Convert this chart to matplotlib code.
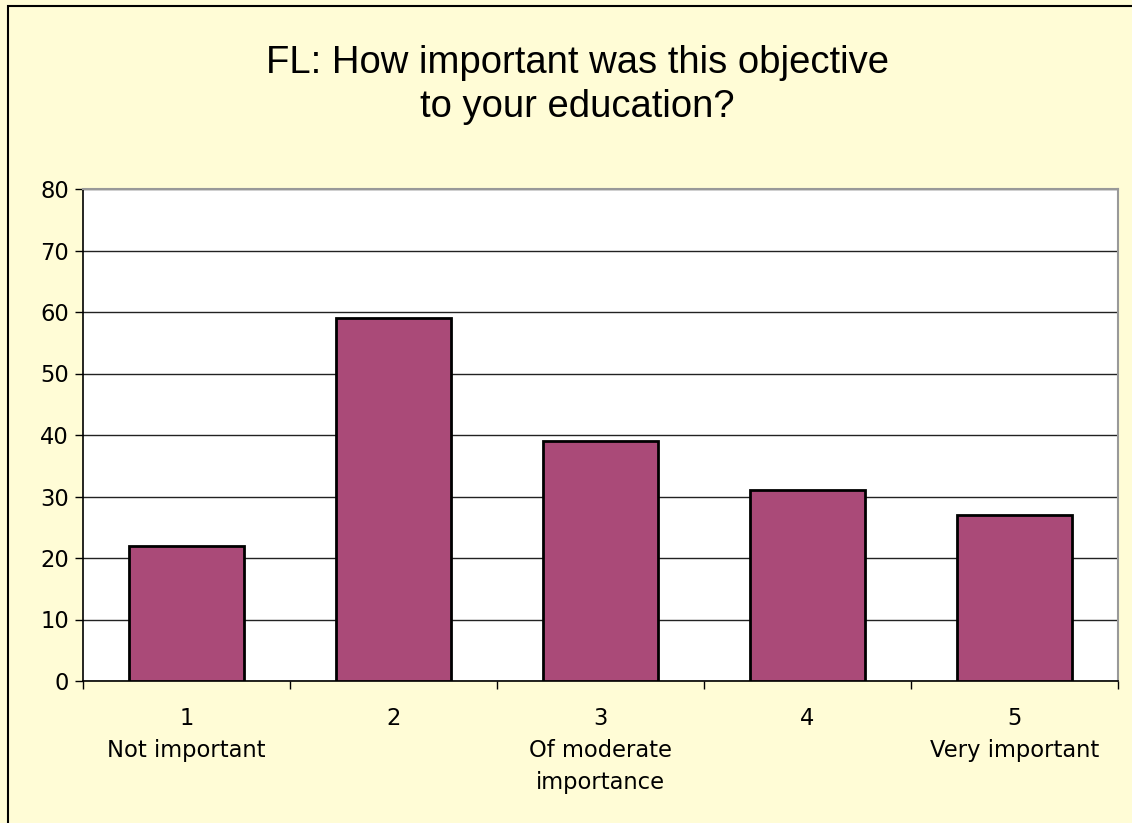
import matplotlib.pyplot as plt
from matplotlib.patches import Rectangle

# data
categories = ['1\nNot important', '2', '3\nOf moderate\nimportance', '4', '5\nVery important']
counts = [22, 59, 39, 31, 27]
title = 'FL: How important was this objective\nto your education?'

fig = plt.figure(figsize=(11.32, 8.23), dpi=100)
fig.patch.set_facecolor('#FFFCD6')
# black frame at top/left like the original (cropped on the other sides)
fig.patches.append(Rectangle((8 / 1132, -0.1), 1.2, 1 - 6 / 823 + 0.1, transform=fig.transFigure,
                             fill=False, edgecolor='black', linewidth=1.5))

ax = fig.add_axes([83 / 1132, 1 - 681 / 823, (1118 - 83) / 1132, (681 - 189) / 823])
ax.set_facecolor('white')

x = range(len(counts))
ax.bar(x, counts, width=0.56, color='#AA4A78', edgecolor='black', linewidth=2, zorder=3)

ax.set_ylim(0, 80)
ax.set_xlim(-0.5, len(counts) - 0.5)
ax.set_yticks(range(0, 81, 10))
ax.yaxis.grid(True, color='#222222', linewidth=1, zorder=0)

ax.set_xticks(list(x))
ax.set_xticklabels(categories, linespacing=1.48, va='top')
ax.set_xticks([i + 0.5 for i in range(-1, len(counts))], minor=True)
ax.tick_params(axis='x', which='major', length=0, pad=19)
ax.tick_params(axis='x', which='minor', length=6, width=1, direction='out')
ax.tick_params(axis='y', length=6, width=1, pad=4)
for lab in ax.get_xticklabels() + ax.get_yticklabels():
    lab.set_fontsize(16.3)
    lab.set_fontfamily('DejaVu Sans')

for s in ['top', 'right']:
    ax.spines[s].set_color('#999999')
    ax.spines[s].set_linewidth(1.5)
for s in ['left', 'bottom']:
    ax.spines[s].set_color('black')
    ax.spines[s].set_linewidth(1.2)

fig.text(577 / 1132, 1 - 85 / 823, title, ha='center', va='center', fontsize=27.5,
         family='Liberation Sans', linespacing=1.3)

fig.savefig('out.png', dpi=100, facecolor=fig.get_facecolor())
